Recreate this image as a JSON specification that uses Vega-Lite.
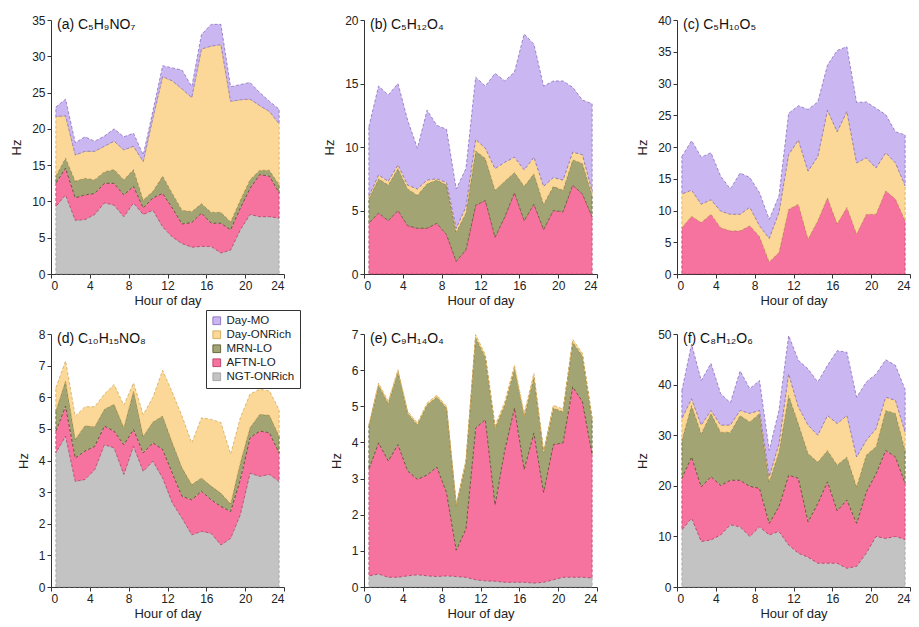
{
"$schema":"https://vega.github.io/schema/vega-lite/v6.json",
"background":"white",
"padding":{"left":10,"top":14,"right":5,"bottom":5},
"datasets":{
"ord":[{"src":"NGT-ONRich","o":1},{"src":"AFTN-LO","o":2},{"src":"MRN-LO","o":3},{"src":"Day-ONRich","o":4},{"src":"Day-MO","o":5}],
"d":[
{"p":"a","h":0.5,"NGT-ONRich":9.3,"AFTN-LO":3.2,"MRN-LO":1.0,"Day-ONRich":8.2,"Day-MO":1.3},
{"p":"a","h":1.5,"NGT-ONRich":10.9,"AFTN-LO":3.7,"MRN-LO":1.4,"Day-ONRich":5.8,"Day-MO":2.3},
{"p":"a","h":2.5,"NGT-ONRich":7.4,"AFTN-LO":3.1,"MRN-LO":2.3,"Day-ONRich":3.6,"Day-MO":1.7},
{"p":"a","h":3.5,"NGT-ONRich":7.5,"AFTN-LO":3.4,"MRN-LO":2.3,"Day-ONRich":3.7,"Day-MO":2.0},
{"p":"a","h":4.5,"NGT-ONRich":8.2,"AFTN-LO":2.9,"MRN-LO":1.9,"Day-ONRich":3.9,"Day-MO":1.4},
{"p":"a","h":5.5,"NGT-ONRich":9.8,"AFTN-LO":2.7,"MRN-LO":1.6,"Day-ONRich":3.5,"Day-MO":1.4},
{"p":"a","h":6.5,"NGT-ONRich":9.5,"AFTN-LO":3.0,"MRN-LO":1.9,"Day-ONRich":3.9,"Day-MO":1.7},
{"p":"a","h":7.5,"NGT-ONRich":7.9,"AFTN-LO":3.0,"MRN-LO":2.1,"Day-ONRich":4.1,"Day-MO":1.8},
{"p":"a","h":8.5,"NGT-ONRich":9.8,"AFTN-LO":2.3,"MRN-LO":2.3,"Day-ONRich":3.2,"Day-MO":1.8},
{"p":"a","h":9.5,"NGT-ONRich":8.2,"AFTN-LO":0.9,"MRN-LO":1.1,"Day-ONRich":5.3,"Day-MO":0.9},
{"p":"a","h":10.5,"NGT-ONRich":8.8,"AFTN-LO":1.7,"MRN-LO":0.9,"Day-ONRich":10.1,"Day-MO":1.0},
{"p":"a","h":11.5,"NGT-ONRich":6.5,"AFTN-LO":4.6,"MRN-LO":2.4,"Day-ONRich":13.7,"Day-MO":1.5},
{"p":"a","h":12.5,"NGT-ONRich":5.1,"AFTN-LO":4.0,"MRN-LO":2.0,"Day-ONRich":15.5,"Day-MO":1.8},
{"p":"a","h":13.5,"NGT-ONRich":4.2,"AFTN-LO":2.7,"MRN-LO":1.9,"Day-ONRich":16.7,"Day-MO":2.6},
{"p":"a","h":14.5,"NGT-ONRich":3.7,"AFTN-LO":3.4,"MRN-LO":1.5,"Day-ONRich":15.7,"Day-MO":1.5},
{"p":"a","h":15.5,"NGT-ONRich":3.8,"AFTN-LO":4.6,"MRN-LO":1.3,"Day-ONRich":21.3,"Day-MO":2.0},
{"p":"a","h":16.5,"NGT-ONRich":3.8,"AFTN-LO":3.2,"MRN-LO":1.5,"Day-ONRich":22.9,"Day-MO":3.0},
{"p":"a","h":17.5,"NGT-ONRich":2.9,"AFTN-LO":4.1,"MRN-LO":1.5,"Day-ONRich":23.1,"Day-MO":2.8},
{"p":"a","h":18.5,"NGT-ONRich":3.3,"AFTN-LO":2.8,"MRN-LO":1.1,"Day-ONRich":16.6,"Day-MO":2.0},
{"p":"a","h":19.5,"NGT-ONRich":6.1,"AFTN-LO":3.0,"MRN-LO":1.1,"Day-ONRich":13.8,"Day-MO":2.1},
{"p":"a","h":20.5,"NGT-ONRich":8.2,"AFTN-LO":3.6,"MRN-LO":1.2,"Day-ONRich":11.1,"Day-MO":2.3},
{"p":"a","h":21.5,"NGT-ONRich":7.9,"AFTN-LO":5.8,"MRN-LO":0.6,"Day-ONRich":8.9,"Day-MO":1.8},
{"p":"a","h":22.5,"NGT-ONRich":7.9,"AFTN-LO":5.6,"MRN-LO":0.8,"Day-ONRich":8.1,"Day-MO":1.4},
{"p":"a","h":23.5,"NGT-ONRich":7.7,"AFTN-LO":3.5,"MRN-LO":1.1,"Day-ONRich":8.4,"Day-MO":2.0},
{"p":"b","h":0.5,"AFTN-LO":4.0,"MRN-LO":1.9,"Day-ONRich":0.2,"Day-MO":5.5},
{"p":"b","h":1.5,"AFTN-LO":4.8,"MRN-LO":2.7,"Day-ONRich":0.3,"Day-MO":7.0},
{"p":"b","h":2.5,"AFTN-LO":4.2,"MRN-LO":2.8,"Day-ONRich":0.3,"Day-MO":6.8},
{"p":"b","h":3.5,"AFTN-LO":5.0,"MRN-LO":3.3,"Day-ONRich":0.3,"Day-MO":6.4},
{"p":"b","h":4.5,"AFTN-LO":3.8,"MRN-LO":2.9,"Day-ONRich":0.3,"Day-MO":5.1},
{"p":"b","h":5.5,"AFTN-LO":3.6,"MRN-LO":2.6,"Day-ONRich":0.5,"Day-MO":3.2},
{"p":"b","h":6.5,"AFTN-LO":3.6,"MRN-LO":3.5,"Day-ONRich":0.3,"Day-MO":5.5},
{"p":"b","h":7.5,"AFTN-LO":4.0,"MRN-LO":3.4,"Day-ONRich":0.1,"Day-MO":4.2},
{"p":"b","h":8.5,"AFTN-LO":3.1,"MRN-LO":3.9,"Day-ONRich":0.2,"Day-MO":4.2},
{"p":"b","h":9.5,"AFTN-LO":1.0,"MRN-LO":2.3,"Day-ONRich":0.3,"Day-MO":3.1},
{"p":"b","h":10.5,"AFTN-LO":1.9,"MRN-LO":2.9,"Day-ONRich":0.5,"Day-MO":3.0},
{"p":"b","h":11.5,"AFTN-LO":5.4,"MRN-LO":4.3,"Day-ONRich":0.9,"Day-MO":4.9},
{"p":"b","h":12.5,"AFTN-LO":5.8,"MRN-LO":3.3,"Day-ONRich":0.8,"Day-MO":4.9},
{"p":"b","h":13.5,"AFTN-LO":2.9,"MRN-LO":3.7,"Day-ONRich":1.7,"Day-MO":7.5},
{"p":"b","h":14.5,"AFTN-LO":4.5,"MRN-LO":2.8,"Day-ONRich":1.5,"Day-MO":6.4},
{"p":"b","h":15.5,"AFTN-LO":6.4,"MRN-LO":1.6,"Day-ONRich":1.2,"Day-MO":6.7},
{"p":"b","h":16.5,"AFTN-LO":4.2,"MRN-LO":2.7,"Day-ONRich":1.3,"Day-MO":10.7},
{"p":"b","h":17.5,"AFTN-LO":5.5,"MRN-LO":2.4,"Day-ONRich":1.3,"Day-MO":8.9},
{"p":"b","h":18.5,"AFTN-LO":3.5,"MRN-LO":2.0,"Day-ONRich":1.4,"Day-MO":7.9},
{"p":"b","h":19.5,"AFTN-LO":5.0,"MRN-LO":1.9,"Day-ONRich":0.7,"Day-MO":7.6},
{"p":"b","h":20.5,"AFTN-LO":4.9,"MRN-LO":1.7,"Day-ONRich":0.8,"Day-MO":7.8},
{"p":"b","h":21.5,"AFTN-LO":7.0,"MRN-LO":2.0,"Day-ONRich":0.6,"Day-MO":5.1},
{"p":"b","h":22.5,"AFTN-LO":6.3,"MRN-LO":2.4,"Day-ONRich":0.7,"Day-MO":4.3},
{"p":"b","h":23.5,"AFTN-LO":4.5,"MRN-LO":1.7,"Day-ONRich":0.3,"Day-MO":6.9},
{"p":"c","h":0.5,"AFTN-LO":7.3,"Day-ONRich":5.3,"Day-MO":5.9},
{"p":"c","h":1.5,"AFTN-LO":9.1,"Day-ONRich":4.1,"Day-MO":7.8},
{"p":"c","h":2.5,"AFTN-LO":8.1,"Day-ONRich":2.9,"Day-MO":7.4},
{"p":"c","h":3.5,"AFTN-LO":9.4,"Day-ONRich":2.3,"Day-MO":7.4},
{"p":"c","h":4.5,"AFTN-LO":7.3,"Day-ONRich":2.6,"Day-MO":5.5},
{"p":"c","h":5.5,"AFTN-LO":6.8,"Day-ONRich":2.6,"Day-MO":4.0},
{"p":"c","h":6.5,"AFTN-LO":6.8,"Day-ONRich":2.6,"Day-MO":6.5},
{"p":"c","h":7.5,"AFTN-LO":7.6,"Day-ONRich":2.9,"Day-MO":4.7},
{"p":"c","h":8.5,"AFTN-LO":5.9,"Day-ONRich":1.7,"Day-MO":5.2},
{"p":"c","h":9.5,"AFTN-LO":1.9,"Day-ONRich":3.7,"Day-MO":3.0},
{"p":"c","h":10.5,"AFTN-LO":3.4,"Day-ONRich":6.3,"Day-MO":2.6},
{"p":"c","h":11.5,"AFTN-LO":10.2,"Day-ONRich":8.6,"Day-MO":6.5},
{"p":"c","h":12.5,"AFTN-LO":11.0,"Day-ONRich":10.1,"Day-MO":5.4},
{"p":"c","h":13.5,"AFTN-LO":5.5,"Day-ONRich":10.7,"Day-MO":9.7},
{"p":"c","h":14.5,"AFTN-LO":8.4,"Day-ONRich":10.1,"Day-MO":8.6},
{"p":"c","h":15.5,"AFTN-LO":12.0,"Day-ONRich":13.8,"Day-MO":7.1},
{"p":"c","h":16.5,"AFTN-LO":7.9,"Day-ONRich":14.5,"Day-MO":12.8},
{"p":"c","h":17.5,"AFTN-LO":10.5,"Day-ONRich":15.1,"Day-MO":10.2},
{"p":"c","h":18.5,"AFTN-LO":6.3,"Day-ONRich":11.2,"Day-MO":9.5},
{"p":"c","h":19.5,"AFTN-LO":9.4,"Day-ONRich":8.9,"Day-MO":8.8},
{"p":"c","h":20.5,"AFTN-LO":9.4,"Day-ONRich":7.3,"Day-MO":9.4},
{"p":"c","h":21.5,"AFTN-LO":13.1,"Day-ONRich":6.0,"Day-MO":6.0},
{"p":"c","h":22.5,"AFTN-LO":11.8,"Day-ONRich":5.7,"Day-MO":4.9},
{"p":"c","h":23.5,"AFTN-LO":8.4,"Day-ONRich":5.5,"Day-MO":8.0},
{"p":"d","h":0.5,"NGT-ONRich":4.24,"AFTN-LO":0.69,"MRN-LO":0.64,"Day-ONRich":0.73},
{"p":"d","h":1.5,"NGT-ONRich":4.77,"AFTN-LO":0.95,"MRN-LO":0.8,"Day-ONRich":0.63},
{"p":"d","h":2.5,"NGT-ONRich":3.34,"AFTN-LO":0.74,"MRN-LO":0.59,"Day-ONRich":0.73},
{"p":"d","h":3.5,"NGT-ONRich":3.4,"AFTN-LO":0.9,"MRN-LO":0.8,"Day-ONRich":0.6},
{"p":"d","h":4.5,"NGT-ONRich":3.71,"AFTN-LO":0.74,"MRN-LO":0.62,"Day-ONRich":0.63},
{"p":"d","h":5.5,"NGT-ONRich":4.5,"AFTN-LO":0.59,"MRN-LO":0.53,"Day-ONRich":0.48},
{"p":"d","h":6.5,"NGT-ONRich":4.4,"AFTN-LO":0.53,"MRN-LO":0.85,"Day-ONRich":0.62},
{"p":"d","h":7.5,"NGT-ONRich":3.56,"AFTN-LO":0.94,"MRN-LO":0.54,"Day-ONRich":0.71},
{"p":"d","h":8.5,"NGT-ONRich":4.45,"AFTN-LO":0.53,"MRN-LO":1.22,"Day-ONRich":0.25},
{"p":"d","h":9.5,"NGT-ONRich":3.66,"AFTN-LO":0.58,"MRN-LO":0.53,"Day-ONRich":0.68},
{"p":"d","h":10.5,"NGT-ONRich":3.98,"AFTN-LO":0.58,"MRN-LO":0.66,"Day-ONRich":0.78},
{"p":"d","h":11.5,"NGT-ONRich":3.45,"AFTN-LO":0.9,"MRN-LO":1.06,"Day-ONRich":1.44},
{"p":"d","h":12.5,"NGT-ONRich":2.66,"AFTN-LO":0.94,"MRN-LO":0.96,"Day-ONRich":1.59},
{"p":"d","h":13.5,"NGT-ONRich":2.18,"AFTN-LO":0.69,"MRN-LO":0.9,"Day-ONRich":1.63},
{"p":"d","h":14.5,"NGT-ONRich":1.65,"AFTN-LO":1.11,"MRN-LO":0.48,"Day-ONRich":1.31},
{"p":"d","h":15.5,"NGT-ONRich":1.76,"AFTN-LO":1.27,"MRN-LO":0.42,"Day-ONRich":1.9},
{"p":"d","h":16.5,"NGT-ONRich":1.7,"AFTN-LO":1.06,"MRN-LO":0.43,"Day-ONRich":2.11},
{"p":"d","h":17.5,"NGT-ONRich":1.33,"AFTN-LO":1.22,"MRN-LO":0.42,"Day-ONRich":2.23},
{"p":"d","h":18.5,"NGT-ONRich":1.54,"AFTN-LO":0.85,"MRN-LO":0.24,"Day-ONRich":1.57},
{"p":"d","h":19.5,"NGT-ONRich":2.29,"AFTN-LO":1.11,"MRN-LO":0.53,"Day-ONRich":1.42},
{"p":"d","h":20.5,"NGT-ONRich":3.6,"AFTN-LO":1.12,"MRN-LO":0.32,"Day-ONRich":1.06},
{"p":"d","h":21.5,"NGT-ONRich":3.5,"AFTN-LO":1.43,"MRN-LO":0.53,"Day-ONRich":0.79},
{"p":"d","h":22.5,"NGT-ONRich":3.56,"AFTN-LO":1.32,"MRN-LO":0.55,"Day-ONRich":0.77},
{"p":"d","h":23.5,"NGT-ONRich":3.34,"AFTN-LO":0.9,"MRN-LO":0.53,"Day-ONRich":0.83},
{"p":"e","h":0.5,"NGT-ONRich":0.31,"AFTN-LO":2.95,"MRN-LO":1.18,"Day-ONRich":0.06},
{"p":"e","h":1.5,"NGT-ONRich":0.36,"AFTN-LO":3.63,"MRN-LO":1.59,"Day-ONRich":0.06},
{"p":"e","h":2.5,"NGT-ONRich":0.27,"AFTN-LO":3.22,"MRN-LO":1.59,"Day-ONRich":0.06},
{"p":"e","h":3.5,"NGT-ONRich":0.27,"AFTN-LO":3.67,"MRN-LO":2.01,"Day-ONRich":0.06},
{"p":"e","h":4.5,"NGT-ONRich":0.31,"AFTN-LO":2.9,"MRN-LO":1.6,"Day-ONRich":0.05},
{"p":"e","h":5.5,"NGT-ONRich":0.34,"AFTN-LO":2.64,"MRN-LO":1.51,"Day-ONRich":0.05},
{"p":"e","h":6.5,"NGT-ONRich":0.31,"AFTN-LO":2.79,"MRN-LO":1.94,"Day-ONRich":0.05},
{"p":"e","h":7.5,"NGT-ONRich":0.29,"AFTN-LO":3.03,"MRN-LO":1.94,"Day-ONRich":0.05},
{"p":"e","h":8.5,"NGT-ONRich":0.31,"AFTN-LO":2.31,"MRN-LO":2.33,"Day-ONRich":0.05},
{"p":"e","h":9.5,"NGT-ONRich":0.29,"AFTN-LO":0.73,"MRN-LO":1.23,"Day-ONRich":0.05},
{"p":"e","h":10.5,"NGT-ONRich":0.27,"AFTN-LO":1.34,"MRN-LO":1.83,"Day-ONRich":0.06},
{"p":"e","h":11.5,"NGT-ONRich":0.2,"AFTN-LO":4.2,"MRN-LO":2.5,"Day-ONRich":0.08},
{"p":"e","h":12.5,"NGT-ONRich":0.17,"AFTN-LO":4.46,"MRN-LO":1.73,"Day-ONRich":0.07},
{"p":"e","h":13.5,"NGT-ONRich":0.16,"AFTN-LO":2.12,"MRN-LO":2.12,"Day-ONRich":0.06},
{"p":"e","h":14.5,"NGT-ONRich":0.13,"AFTN-LO":3.67,"MRN-LO":1.24,"Day-ONRich":0.08},
{"p":"e","h":15.5,"NGT-ONRich":0.13,"AFTN-LO":4.82,"MRN-LO":1.09,"Day-ONRich":0.1},
{"p":"e","h":16.5,"NGT-ONRich":0.13,"AFTN-LO":3.13,"MRN-LO":1.46,"Day-ONRich":0.08},
{"p":"e","h":17.5,"NGT-ONRich":0.11,"AFTN-LO":4.15,"MRN-LO":1.55,"Day-ONRich":0.1},
{"p":"e","h":18.5,"NGT-ONRich":0.13,"AFTN-LO":2.49,"MRN-LO":1.09,"Day-ONRich":0.07},
{"p":"e","h":19.5,"NGT-ONRich":0.2,"AFTN-LO":3.74,"MRN-LO":1.01,"Day-ONRich":0.08},
{"p":"e","h":20.5,"NGT-ONRich":0.27,"AFTN-LO":3.72,"MRN-LO":0.86,"Day-ONRich":0.07},
{"p":"e","h":21.5,"NGT-ONRich":0.27,"AFTN-LO":5.27,"MRN-LO":1.23,"Day-ONRich":0.08},
{"p":"e","h":22.5,"NGT-ONRich":0.27,"AFTN-LO":4.86,"MRN-LO":1.27,"Day-ONRich":0.07},
{"p":"e","h":23.5,"NGT-ONRich":0.25,"AFTN-LO":3.42,"MRN-LO":0.96,"Day-ONRich":0.06},
{"p":"f","h":0.5,"NGT-ONRich":11.3,"AFTN-LO":10.2,"MRN-LO":7.5,"Day-ONRich":4.3,"Day-MO":5.5},
{"p":"f","h":1.5,"NGT-ONRich":13.6,"AFTN-LO":12.1,"MRN-LO":10.2,"Day-ONRich":1.3,"Day-MO":10.8},
{"p":"f","h":2.5,"NGT-ONRich":9.0,"AFTN-LO":10.8,"MRN-LO":10.5,"Day-ONRich":1.7,"Day-MO":8.8},
{"p":"f","h":3.5,"NGT-ONRich":9.3,"AFTN-LO":12.5,"MRN-LO":12.5,"Day-ONRich":0.6,"Day-MO":9.3},
{"p":"f","h":4.5,"NGT-ONRich":10.3,"AFTN-LO":9.8,"MRN-LO":10.5,"Day-ONRich":1.4,"Day-MO":6.2},
{"p":"f","h":5.5,"NGT-ONRich":12.3,"AFTN-LO":8.8,"MRN-LO":9.5,"Day-ONRich":1.4,"Day-MO":4.4},
{"p":"f","h":6.5,"NGT-ONRich":11.9,"AFTN-LO":9.2,"MRN-LO":12.8,"Day-ONRich":1.0,"Day-MO":7.8},
{"p":"f","h":7.5,"NGT-ONRich":10.0,"AFTN-LO":9.9,"MRN-LO":12.7,"Day-ONRich":1.7,"Day-MO":4.9},
{"p":"f","h":8.5,"NGT-ONRich":11.9,"AFTN-LO":7.6,"MRN-LO":14.8,"Day-ONRich":0.6,"Day-MO":5.9},
{"p":"f","h":9.5,"NGT-ONRich":10.3,"AFTN-LO":2.3,"MRN-LO":8.2,"Day-ONRich":1.0,"Day-MO":5.2},
{"p":"f","h":10.5,"NGT-ONRich":11.0,"AFTN-LO":4.9,"MRN-LO":10.8,"Day-ONRich":1.6,"Day-MO":6.6},
{"p":"f","h":11.5,"NGT-ONRich":8.3,"AFTN-LO":13.8,"MRN-LO":15.8,"Day-ONRich":4.2,"Day-MO":7.6},
{"p":"f","h":12.5,"NGT-ONRich":6.7,"AFTN-LO":14.8,"MRN-LO":10.8,"Day-ONRich":3.3,"Day-MO":9.2},
{"p":"f","h":13.5,"NGT-ONRich":5.9,"AFTN-LO":7.0,"MRN-LO":13.5,"Day-ONRich":5.6,"Day-MO":11.1},
{"p":"f","h":14.5,"NGT-ONRich":4.7,"AFTN-LO":11.8,"MRN-LO":8.2,"Day-ONRich":5.3,"Day-MO":10.5},
{"p":"f","h":15.5,"NGT-ONRich":4.7,"AFTN-LO":16.1,"MRN-LO":6.2,"Day-ONRich":6.9,"Day-MO":9.9},
{"p":"f","h":16.5,"NGT-ONRich":4.7,"AFTN-LO":10.4,"MRN-LO":9.0,"Day-ONRich":8.2,"Day-MO":14.4},
{"p":"f","h":17.5,"NGT-ONRich":3.7,"AFTN-LO":13.5,"MRN-LO":8.5,"Day-ONRich":8.2,"Day-MO":12.5},
{"p":"f","h":18.5,"NGT-ONRich":4.1,"AFTN-LO":8.5,"MRN-LO":7.2,"Day-ONRich":5.9,"Day-MO":11.8},
{"p":"f","h":19.5,"NGT-ONRich":6.7,"AFTN-LO":12.1,"MRN-LO":7.3,"Day-ONRich":2.9,"Day-MO":11.5},
{"p":"f","h":20.5,"NGT-ONRich":10.0,"AFTN-LO":12.4,"MRN-LO":5.3,"Day-ONRich":3.6,"Day-MO":10.8},
{"p":"f","h":21.5,"NGT-ONRich":9.6,"AFTN-LO":17.4,"MRN-LO":7.9,"Day-ONRich":2.6,"Day-MO":7.4},
{"p":"f","h":22.5,"NGT-ONRich":10.0,"AFTN-LO":15.7,"MRN-LO":8.6,"Day-ONRich":2.6,"Day-MO":6.9},
{"p":"f","h":23.5,"NGT-ONRich":9.4,"AFTN-LO":11.1,"MRN-LO":6.5,"Day-ONRich":3.6,"Day-MO":8.4}
]},
"data":{"name":"d"},
"transform":[
{"fold":["NGT-ONRich","AFTN-LO","MRN-LO","Day-ONRich","Day-MO"],"as":["src","hz"]},
{"filter":"isValid(datum.hz)"},
{"lookup":"src","from":{"data":{"name":"ord"},"key":"src","fields":["o"]}}
],
"columns":3,
"spacing":{"column":80,"row":60},
"bounds":"flush",
"concat":[
{"width":233,"height":254,"title":{"text":"(a) C₅H₉NO₇"},"transform":[{"filter":"datum.p=='a'"}],
"mark":{"type":"area","strokeWidth":0.7,"strokeDash":[3,2]},
"encoding":{
"x":{"field":"h","type":"quantitative","scale":{"domain":[0,24],"nice":false,"zero":false},"axis":{"values":[0,4,8,12,16,20,24],"title":"Hour of day"}},
"y":{"field":"hz","type":"quantitative","stack":"zero","scale":{"domain":[0,35],"nice":false},"axis":{"values":[0,5,10,15,20,25,30,35],"title":"Hz"}},
"color":{"field":"src","type":"nominal","scale":{"domain":["Day-MO","Day-ONRich","MRN-LO","AFTN-LO","NGT-ONRich"],"range":["#CAB6F0","#FCD898","#A3A473","#F7739F","#C3C3C3"]},"legend":{"orient":"none","legendX":155,"legendY":290,"title":null}},
"stroke":{"field":"src","type":"nominal","scale":{"domain":["Day-MO","Day-ONRich","MRN-LO","AFTN-LO","NGT-ONRich"],"range":["#7E63B8","#C9A24A","#4F4E22","#B0305E","#9A9A9A"]},"legend":null},
"order":{"field":"o","type":"quantitative"}}},
{"width":233,"height":254,"title":{"text":"(b) C₅H₁₂O₄"},"transform":[{"filter":"datum.p=='b'"}],
"mark":{"type":"area","strokeWidth":0.7,"strokeDash":[3,2]},
"encoding":{
"x":{"field":"h","type":"quantitative","scale":{"domain":[0,24],"nice":false,"zero":false},"axis":{"values":[0,4,8,12,16,20,24],"title":"Hour of day"}},
"y":{"field":"hz","type":"quantitative","stack":"zero","scale":{"domain":[0,20],"nice":false},"axis":{"values":[0,5,10,15,20],"title":"Hz"}},
"color":{"field":"src","type":"nominal","scale":{"domain":["Day-MO","Day-ONRich","MRN-LO","AFTN-LO","NGT-ONRich"],"range":["#CAB6F0","#FCD898","#A3A473","#F7739F","#C3C3C3"]},"legend":{"orient":"none","legendX":155,"legendY":290,"title":null}},
"stroke":{"field":"src","type":"nominal","scale":{"domain":["Day-MO","Day-ONRich","MRN-LO","AFTN-LO","NGT-ONRich"],"range":["#7E63B8","#C9A24A","#4F4E22","#B0305E","#9A9A9A"]},"legend":null},
"order":{"field":"o","type":"quantitative"}}},
{"width":233,"height":254,"title":{"text":"(c) C₅H₁₀O₅"},"transform":[{"filter":"datum.p=='c'"}],
"mark":{"type":"area","strokeWidth":0.7,"strokeDash":[3,2]},
"encoding":{
"x":{"field":"h","type":"quantitative","scale":{"domain":[0,24],"nice":false,"zero":false},"axis":{"values":[0,4,8,12,16,20,24],"title":"Hour of day"}},
"y":{"field":"hz","type":"quantitative","stack":"zero","scale":{"domain":[0,40],"nice":false},"axis":{"values":[0,5,10,15,20,25,30,35,40],"title":"Hz"}},
"color":{"field":"src","type":"nominal","scale":{"domain":["Day-MO","Day-ONRich","MRN-LO","AFTN-LO","NGT-ONRich"],"range":["#CAB6F0","#FCD898","#A3A473","#F7739F","#C3C3C3"]},"legend":{"orient":"none","legendX":155,"legendY":290,"title":null}},
"stroke":{"field":"src","type":"nominal","scale":{"domain":["Day-MO","Day-ONRich","MRN-LO","AFTN-LO","NGT-ONRich"],"range":["#7E63B8","#C9A24A","#4F4E22","#B0305E","#9A9A9A"]},"legend":null},
"order":{"field":"o","type":"quantitative"}}},
{"width":233,"height":253,"title":{"text":"(d) C₁₀H₁₅NO₈"},"transform":[{"filter":"datum.p=='d'"}],
"mark":{"type":"area","strokeWidth":0.7,"strokeDash":[3,2]},
"encoding":{
"x":{"field":"h","type":"quantitative","scale":{"domain":[0,24],"nice":false,"zero":false},"axis":{"values":[0,4,8,12,16,20,24],"title":"Hour of day"}},
"y":{"field":"hz","type":"quantitative","stack":"zero","scale":{"domain":[0,8],"nice":false},"axis":{"values":[0,1,2,3,4,5,6,7,8],"title":"Hz"}},
"color":{"field":"src","type":"nominal","scale":{"domain":["Day-MO","Day-ONRich","MRN-LO","AFTN-LO","NGT-ONRich"],"range":["#CAB6F0","#FCD898","#A3A473","#F7739F","#C3C3C3"]},"legend":{"orient":"none","legendX":155,"legendY":290,"title":null}},
"stroke":{"field":"src","type":"nominal","scale":{"domain":["Day-MO","Day-ONRich","MRN-LO","AFTN-LO","NGT-ONRich"],"range":["#7E63B8","#C9A24A","#4F4E22","#B0305E","#9A9A9A"]},"legend":null},
"order":{"field":"o","type":"quantitative"}}},
{"width":233,"height":253,"title":{"text":"(e) C₉H₁₄O₄"},"transform":[{"filter":"datum.p=='e'"}],
"mark":{"type":"area","strokeWidth":0.7,"strokeDash":[3,2]},
"encoding":{
"x":{"field":"h","type":"quantitative","scale":{"domain":[0,24],"nice":false,"zero":false},"axis":{"values":[0,4,8,12,16,20,24],"title":"Hour of day"}},
"y":{"field":"hz","type":"quantitative","stack":"zero","scale":{"domain":[0,7],"nice":false},"axis":{"values":[0,1,2,3,4,5,6,7],"title":"Hz"}},
"color":{"field":"src","type":"nominal","scale":{"domain":["Day-MO","Day-ONRich","MRN-LO","AFTN-LO","NGT-ONRich"],"range":["#CAB6F0","#FCD898","#A3A473","#F7739F","#C3C3C3"]},"legend":{"orient":"none","legendX":155,"legendY":290,"title":null}},
"stroke":{"field":"src","type":"nominal","scale":{"domain":["Day-MO","Day-ONRich","MRN-LO","AFTN-LO","NGT-ONRich"],"range":["#7E63B8","#C9A24A","#4F4E22","#B0305E","#9A9A9A"]},"legend":null},
"order":{"field":"o","type":"quantitative"}}},
{"width":233,"height":253,"title":{"text":"(f) C₈H₁₂O₆"},"transform":[{"filter":"datum.p=='f'"}],
"mark":{"type":"area","strokeWidth":0.7,"strokeDash":[3,2]},
"encoding":{
"x":{"field":"h","type":"quantitative","scale":{"domain":[0,24],"nice":false,"zero":false},"axis":{"values":[0,4,8,12,16,20,24],"title":"Hour of day"}},
"y":{"field":"hz","type":"quantitative","stack":"zero","scale":{"domain":[0,50],"nice":false},"axis":{"values":[0,10,20,30,40,50],"title":"Hz"}},
"color":{"field":"src","type":"nominal","scale":{"domain":["Day-MO","Day-ONRich","MRN-LO","AFTN-LO","NGT-ONRich"],"range":["#CAB6F0","#FCD898","#A3A473","#F7739F","#C3C3C3"]},"legend":{"orient":"none","legendX":155,"legendY":290,"title":null}},
"stroke":{"field":"src","type":"nominal","scale":{"domain":["Day-MO","Day-ONRich","MRN-LO","AFTN-LO","NGT-ONRich"],"range":["#7E63B8","#C9A24A","#4F4E22","#B0305E","#9A9A9A"]},"legend":null},
"order":{"field":"o","type":"quantitative"}}}
],
"config":{
"font":"Liberation Sans",
"view":{"stroke":null},
"axis":{"grid":false,"labelFont":"Liberation Sans","titleFont":"Liberation Sans","labelFontSize":12,"titleFontSize":13,"titleFontWeight":"normal","labelColor":"#222","titleColor":"#222","domainColor":"#333","tickColor":"#333","tickSize":4,"labelPadding":2},
"axisX":{"titlePadding":3},
"axisY":{"titlePadding":8},
"title":{"anchor":"start","frame":"group","font":"Liberation Sans","fontSize":14,"fontWeight":"normal","color":"#111","offset":-18,"dx":6},
"legend":{"strokeColor":"#333","fillColor":"white","padding":5,"symbolType":"square","symbolSize":60,"symbolStrokeWidth":0.8,"symbolStrokeColor":"#666","labelFont":"Liberation Sans","labelFontSize":11.5,"labelColor":"#222","rowPadding":1,"cornerRadius":0}
}
}
